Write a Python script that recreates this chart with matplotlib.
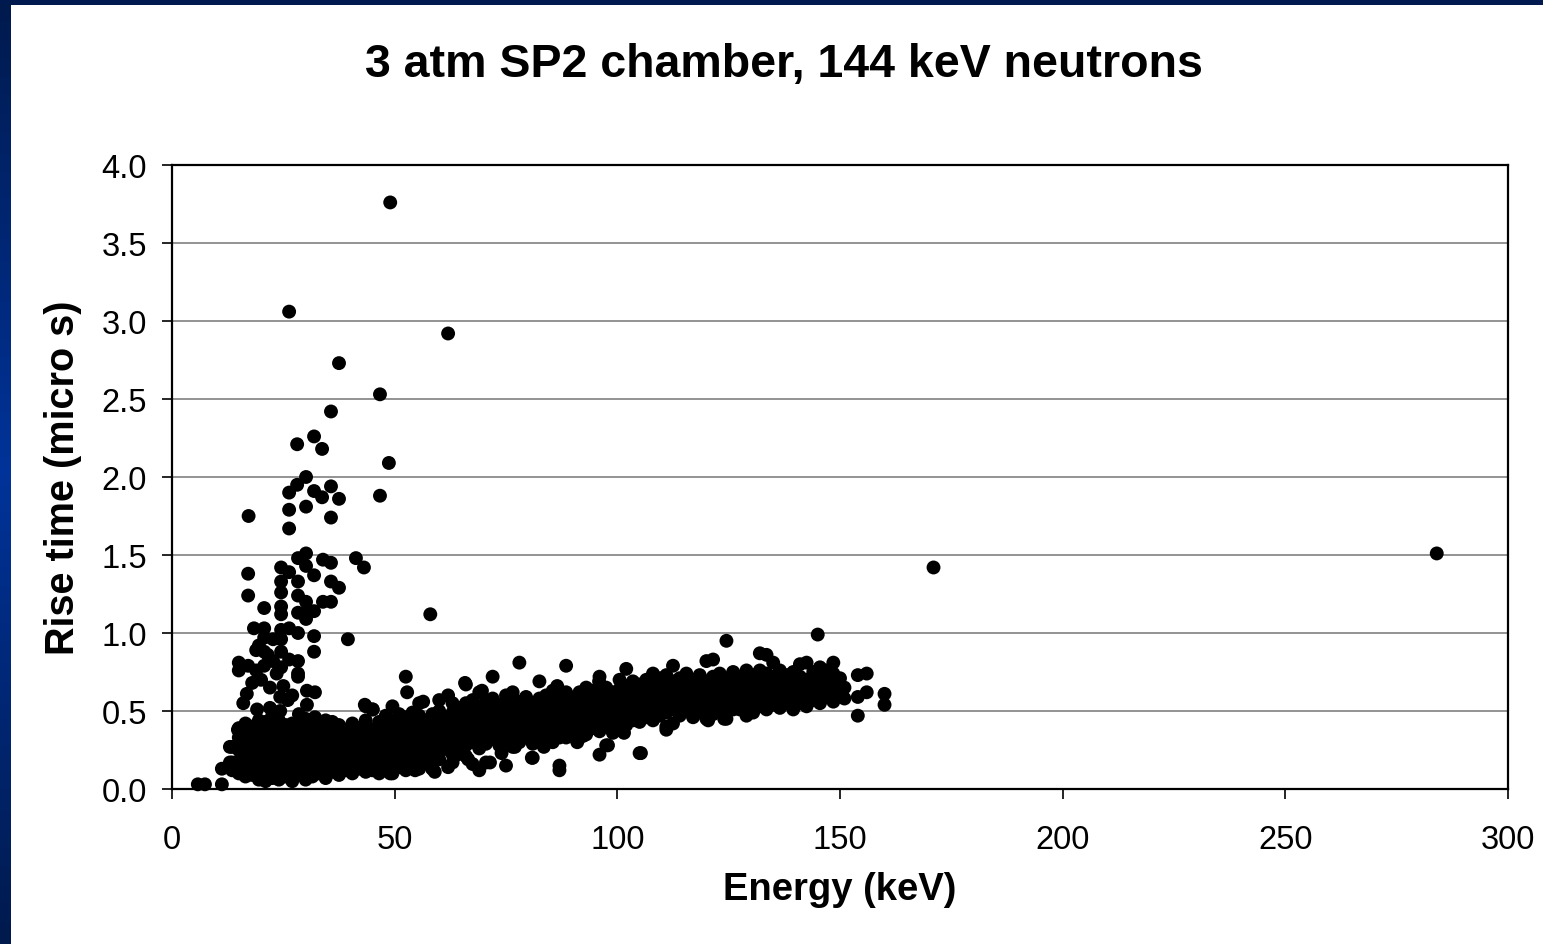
import matplotlib
matplotlib.use('Agg')
import matplotlib.pyplot as plt
import numpy as np

plt.rcParams['font.family'] = ['Liberation Sans', 'DejaVu Sans']

# plume of slow events at low energy
plume_e = [49.0, 26.3, 62.0, 37.5, 46.7, 35.7, 28.1, 31.9, 33.7, 48.7,
           30.1, 28.1, 35.7, 26.3, 31.9, 33.7, 37.5, 46.7, 26.3, 30.1,
           35.7, 17.2, 26.3, 58.0,
           30.1, 28.3, 33.9, 35.7, 41.3, 43.1, 17.1, 24.5, 26.3, 30.1,
           31.9, 24.5, 28.3, 35.7, 37.5, 24.5, 17.1, 28.3, 30.1, 33.9,
           35.7, 20.7, 24.5, 24.5, 28.3, 30.1, 31.9, 30.1, 39.5, 31.9,
           31.9, 18.4, 20.7, 24.5, 26.3, 28.3, 20.7, 22.7, 24.5, 18.9,
           20.7, 24.5, 22.7, 26.3, 28.3, 15.0, 17.1, 20.7, 15.0, 18.9,
           24.5, 28.3, 16.8, 19.1, 24.3, 28.3, 30.3, 32.1, 30.3, 24.3,
           32.1, 43.3, 45.1, 20.0, 22.0, 26.0, 18.0, 21.5, 23.5, 19.5,
           25.0, 27.0, 16.0, 22.0]
plume_t = [3.76, 3.06, 2.92, 2.73, 2.53, 2.42, 2.21, 2.26, 2.18, 2.09,
           2.00, 1.95, 1.94, 1.90, 1.91, 1.87, 1.86, 1.88, 1.79, 1.81,
           1.74, 1.75, 1.67, 1.12,
           1.51, 1.48, 1.47, 1.45, 1.48, 1.42, 1.38, 1.42, 1.39, 1.43,
           1.37, 1.33, 1.33, 1.33, 1.29, 1.26, 1.24, 1.24, 1.20, 1.20,
           1.20, 1.16, 1.17, 1.12, 1.13, 1.13, 1.14, 1.09, 0.96, 0.98,
           0.88, 1.03, 1.03, 1.02, 1.03, 1.00, 0.97, 0.96, 0.96, 0.89,
           0.88, 0.88, 0.82, 0.83, 0.82, 0.81, 0.79, 0.79, 0.76, 0.76,
           0.78, 0.74, 0.61, 0.51, 0.59, 0.72, 0.63, 0.62, 0.54, 0.50,
           0.46, 0.54, 0.51, 0.70, 0.65, 0.57, 0.68, 0.86, 0.74, 0.92,
           0.66, 0.60, 0.55, 0.52]

# lowest energy events
low_e = [5.8, 7.4, 11.2, 11.2, 13.0, 13.0, 14.8]
low_t = [0.03, 0.03, 0.03, 0.13, 0.17, 0.27, 0.38]

# main band, 13-48 keV
band1_e = ([13.5] * 3 + [15.0] * 5 + [16.5] * 6 + [18.0] * 6 + [19.5] * 7 +
           [21.0] * 7 + [22.5] * 7 + [24.0] * 7 + [25.5] * 6 + [27.0] * 7 +
           [28.5] * 7 + [30.0] * 7 + [31.5] * 6 + [33.0] * 6 + [34.5] * 7 +
           [36.0] * 6 + [37.5] * 6 + [39.0] * 5 + [40.5] * 6 + [42.0] * 5 +
           [43.5] * 7 + [45.0] * 6 + [46.5] * 6 + [48.0] * 6)
band1_t = [0.12, 0.17, 0.27,
           0.10, 0.18, 0.25, 0.33, 0.39,
           0.08, 0.14, 0.22, 0.29, 0.36, 0.42,
           0.09, 0.15, 0.21, 0.27, 0.34, 0.40,
           0.06, 0.12, 0.19, 0.26, 0.31, 0.38, 0.44,
           0.05, 0.11, 0.17, 0.24, 0.30, 0.36, 0.43,
           0.07, 0.13, 0.20, 0.27, 0.33, 0.40, 0.47,
           0.06, 0.12, 0.18, 0.25, 0.31, 0.37, 0.44,
           0.08, 0.15, 0.21, 0.28, 0.34, 0.41,
           0.05, 0.11, 0.17, 0.23, 0.30, 0.36, 0.42,
           0.09, 0.15, 0.22, 0.28, 0.35, 0.41, 0.48,
           0.06, 0.12, 0.19, 0.25, 0.32, 0.38, 0.45,
           0.08, 0.14, 0.21, 0.27, 0.34, 0.40,
           0.10, 0.16, 0.23, 0.29, 0.36, 0.42,
           0.07, 0.13, 0.20, 0.26, 0.33, 0.39, 0.44,
           0.11, 0.17, 0.24, 0.30, 0.37, 0.43,
           0.09, 0.15, 0.21, 0.28, 0.34, 0.41,
           0.12, 0.18, 0.25, 0.31, 0.38,
           0.10, 0.16, 0.22, 0.29, 0.35, 0.42,
           0.13, 0.19, 0.26, 0.32, 0.39,
           0.11, 0.17, 0.24, 0.30, 0.37, 0.44, 0.53,
           0.12, 0.18, 0.25, 0.31, 0.38, 0.51,
           0.10, 0.16, 0.23, 0.29, 0.36, 0.43,
           0.13, 0.20, 0.26, 0.33, 0.40, 0.47]

# main band, 49-99 keV
band2_e = ([49.5] * 7 + [51.0] * 6 + [52.5] * 7 + [54.0] * 6 + [55.5] * 7 +
           [57.0] * 5 + [58.5] * 6 + [60.0] * 7 + [61.5] * 4 + [63.0] * 7 +
           [64.5] * 5 + [66.0] * 7 + [67.5] * 6 + [69.0] * 7 + [70.5] * 6 +
           [72.0] * 6 + [73.5] * 5 + [75.0] * 7 + [76.5] * 6 + [78.0] * 6 +
           [79.5] * 5 + [81.0] * 6 + [82.5] * 6 + [84.0] * 5 + [85.5] * 6 +
           [87.0] * 7 + [88.5] * 6 + [90.0] * 5 + [91.5] * 5 + [93.0] * 6 +
           [94.5] * 5 + [96.0] * 7 + [97.5] * 6 + [99.0] * 5)
band2_t = [0.10, 0.17, 0.24, 0.30, 0.37, 0.44, 0.53,
           0.14, 0.21, 0.28, 0.34, 0.41, 0.48,
           0.12, 0.19, 0.26, 0.33, 0.39, 0.46, 0.72,
           0.15, 0.22, 0.29, 0.35, 0.42, 0.49,
           0.13, 0.20, 0.27, 0.34, 0.40, 0.47, 0.55,
           0.17, 0.24, 0.31, 0.37, 0.44,
           0.13, 0.21, 0.28, 0.35, 0.41, 0.48,
           0.19, 0.24, 0.30, 0.37, 0.43, 0.50, 0.57,
           0.26, 0.33, 0.39, 0.46,
           0.17, 0.22, 0.29, 0.36, 0.42, 0.49, 0.55,
           0.25, 0.32, 0.38, 0.45, 0.52,
           0.21, 0.28, 0.35, 0.41, 0.48, 0.55, 0.67,
           0.16, 0.30, 0.37, 0.43, 0.50, 0.57,
           0.12, 0.26, 0.33, 0.40, 0.46, 0.53, 0.62,
           0.17, 0.29, 0.36, 0.42, 0.49, 0.56,
           0.32, 0.38, 0.45, 0.51, 0.58, 0.72,
           0.28, 0.35, 0.41, 0.48, 0.54,
           0.15, 0.31, 0.37, 0.44, 0.50, 0.57, 0.60,
           0.27, 0.34, 0.40, 0.47, 0.53, 0.62,
           0.30, 0.36, 0.43, 0.49, 0.56, 0.81,
           0.33, 0.39, 0.46, 0.52, 0.59,
           0.20, 0.29, 0.36, 0.42, 0.48, 0.55,
           0.31, 0.38, 0.45, 0.51, 0.58, 0.69,
           0.34, 0.40, 0.47, 0.53, 0.60,
           0.30, 0.37, 0.43, 0.50, 0.56, 0.63,
           0.12, 0.15, 0.33, 0.40, 0.46, 0.53, 0.59,
           0.36, 0.42, 0.49, 0.55, 0.62, 0.79,
           0.34, 0.39, 0.45, 0.52, 0.58,
           0.37, 0.43, 0.49, 0.55, 0.62,
           0.35, 0.41, 0.47, 0.53, 0.60, 0.65,
           0.39, 0.45, 0.51, 0.57, 0.63,
           0.22, 0.37, 0.43, 0.49, 0.55, 0.61, 0.72,
           0.28, 0.41, 0.47, 0.53, 0.59, 0.65,
           0.36, 0.44, 0.50, 0.56, 0.62]

# main band, 100-160 keV
band3_e = ([100.5] * 6 + [102.0] * 6 + [103.5] * 5 + [105.0] * 6 + [106.5] * 5 +
           [108.0] * 6 + [109.5] * 5 + [111.0] * 6 + [112.5] * 6 + [114.0] * 5 +
           [115.5] * 5 + [117.0] * 5 + [118.5] * 5 + [120.0] * 6 + [121.5] * 6 +
           [123.0] * 5 + [124.5] * 6 + [126.0] * 5 + [127.5] * 5 + [129.0] * 6 +
           [130.5] * 5 + [132.0] * 6 + [133.5] * 6 + [135.0] * 5 + [136.5] * 5 +
           [138.0] * 4 + [139.5] * 5 + [141.0] * 5 + [142.5] * 5 + [144.0] * 4 +
           [145.0] * 1 + [145.5] * 5 + [147.0] * 4 + [148.5] * 5 + [150.0] * 3 +
           [151.0] * 2 + [154.0] * 3 + [156.0] * 2 + [160.0] * 2)
band3_t = [0.39, 0.46, 0.52, 0.58, 0.64, 0.70,
           0.41, 0.48, 0.54, 0.60, 0.66, 0.77,
           0.44, 0.50, 0.56, 0.62, 0.69,
           0.23, 0.43, 0.49, 0.55, 0.61, 0.67,
           0.46, 0.52, 0.58, 0.64, 0.70,
           0.44, 0.50, 0.56, 0.62, 0.68, 0.74,
           0.47, 0.53, 0.59, 0.65, 0.71,
           0.40, 0.49, 0.55, 0.61, 0.67, 0.73,
           0.42, 0.51, 0.57, 0.63, 0.69, 0.79,
           0.47, 0.53, 0.59, 0.65, 0.71,
           0.50, 0.56, 0.62, 0.68, 0.74,
           0.46, 0.52, 0.58, 0.64, 0.70,
           0.49, 0.55, 0.61, 0.67, 0.73,
           0.45, 0.51, 0.57, 0.63, 0.69, 0.82,
           0.48, 0.54, 0.60, 0.66, 0.72, 0.83,
           0.50, 0.56, 0.62, 0.68, 0.74,
           0.45, 0.53, 0.59, 0.65, 0.71, 0.95,
           0.51, 0.57, 0.63, 0.69, 0.75,
           0.51, 0.54, 0.60, 0.66, 0.72,
           0.47, 0.52, 0.58, 0.64, 0.70, 0.76,
           0.49, 0.55, 0.61, 0.67, 0.73,
           0.53, 0.59, 0.65, 0.71, 0.76, 0.87,
           0.51, 0.56, 0.62, 0.68, 0.74, 0.86,
           0.54, 0.60, 0.66, 0.72, 0.81,
           0.52, 0.58, 0.64, 0.70, 0.76,
           0.55, 0.61, 0.67, 0.73,
           0.51, 0.57, 0.63, 0.69, 0.75,
           0.55, 0.60, 0.66, 0.72, 0.80,
           0.53, 0.58, 0.64, 0.70, 0.81,
           0.57, 0.63, 0.69, 0.75,
           0.99,
           0.55, 0.61, 0.67, 0.73, 0.78,
           0.59, 0.65, 0.71, 0.76,
           0.56, 0.62, 0.68, 0.74, 0.81,
           0.60, 0.66, 0.71,
           0.58, 0.65,
           0.47, 0.59, 0.73,
           0.62, 0.74,
           0.54, 0.61]

# scattered events around the band edges
edge_e = [52.8, 56.4, 62.0, 65.8, 69.6, 54.6, 58.4, 62.0, 64.0, 60.2,
          49.0, 71.4, 80.8, 77.0, 82.6, 92.3, 88.5, 97.9, 105.3, 111.0,
          101.5, 120.4, 124.0, 95.9, 86.5, 59.0, 66.5, 74.0, 83.5, 91.0]
edge_t = [0.62, 0.56, 0.60, 0.68, 0.63, 0.12, 0.13, 0.14, 0.22, 0.24,
          0.10, 0.17, 0.20, 0.27, 0.31, 0.34, 0.33, 0.28, 0.23, 0.38,
          0.36, 0.44, 0.45, 0.69, 0.66, 0.11, 0.19, 0.23, 0.27, 0.30]

# isolated high-energy events
far_e = [171.0, 284.0]
far_t = [1.42, 1.51]

x_ticks = [0, 50, 100, 150, 200, 250, 300]
y_ticks = [0.0, 0.5, 1.0, 1.5, 2.0, 2.5, 3.0, 3.5, 4.0]

fig = plt.figure(figsize=(15.43, 9.45), dpi=100)
fig.patch.set_facecolor('white')

# slide frame: navy strip on the left (gradient) and on top
left_bar = fig.add_axes([0, 0, 11 / 1543, 1])
grad = np.linspace(0, 1, 256)
grad = 1 - np.abs(grad - 0.5) * 2
navy = matplotlib.colors.LinearSegmentedColormap.from_list('navy', ['#001a4d', '#003399'])
left_bar.imshow(grad.reshape(-1, 1), aspect='auto', cmap=navy, extent=[0, 1, 0, 1])
left_bar.set_axis_off()
top_bar = fig.add_axes([0, 1 - 6 / 945, 1, 6 / 945])
top_bar.set_facecolor('#001a50')
top_bar.set_xticks([])
top_bar.set_yticks([])
for s in top_bar.spines.values():
    s.set_visible(False)

ax = fig.add_axes([172 / 1543, 1 - 790 / 945, (1508 - 172) / 1543, (790 - 166) / 945])

all_e = plume_e + low_e + band1_e + band2_e + band3_e + edge_e + far_e
all_t = plume_t + low_t + band1_t + band2_t + band3_t + edge_t + far_t
ax.scatter(all_e, all_t, s=100, color='black', edgecolors='none', zorder=3, clip_on=False)

ax.set_xlim(0, 300)
ax.set_ylim(0, 4.0)
ax.set_xticks(x_ticks)
ax.set_yticks(y_ticks)
ax.set_xticklabels([str(v) for v in x_ticks])
ax.set_yticklabels(['%.1f' % v for v in y_ticks])
ax.yaxis.grid(True, color='#808080', linewidth=1.2)
ax.set_axisbelow(True)
for s in ax.spines.values():
    s.set_linewidth(1.6)
    s.set_color('black')
ax.tick_params(axis='x', direction='out', length=7, width=1.2, colors='#000000', labelsize=23.5, pad=18)
ax.tick_params(axis='y', direction='out', length=7, width=1.2, colors='#000000', labelsize=23.5, pad=11)
for t in ax.get_yticklines():
    t.set_color('#808080')

ax.set_xlabel('Energy (keV)', fontsize=27.5, fontweight='bold', labelpad=12)
ax.set_ylabel('Rise time (micro s)', fontsize=28.5, fontweight='bold', labelpad=14)

fig.text(784 / 1543, 1 - 65 / 945, '3 atm SP2 chamber, 144 keV neutrons',
         ha='center', va='center', fontsize=33.5, fontweight='bold')

fig.savefig('out.png', dpi=100, facecolor='white')
